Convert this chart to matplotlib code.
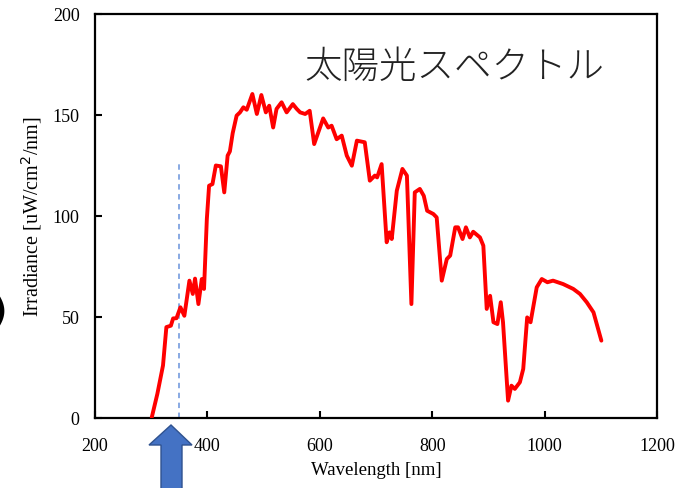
import matplotlib
matplotlib.use("Agg")
import matplotlib.pyplot as plt
from matplotlib.patches import Polygon

# ---- data ----
wavelength = [301, 311, 321, 327, 335, 339, 345, 352, 359, 368, 374, 378, 384, 390, 394,
              399, 403, 409, 415, 424, 430, 436, 440, 445, 452, 458, 464, 470, 480, 488,
              496, 504, 510, 517, 523, 532, 541, 552, 559, 565, 574, 582, 590, 606, 615,
              621, 630, 639, 648, 657, 666, 680, 689, 698, 702, 710, 719, 724, 728, 737,
              747, 755, 763, 769, 778, 785, 791, 802, 808, 817, 826, 832, 841, 846, 854,
              860, 867, 873, 885, 891, 897, 903, 909, 916, 922, 926, 935, 941, 947, 956,
              962, 969, 975, 986, 995, 1005, 1015, 1033, 1051, 1063, 1075, 1087, 1101]
irradiance = [0.3, 12, 26, 45, 45.7, 49.3, 49.4, 54.8, 50.6, 68, 61.4, 69, 56.4, 68.8, 63.9,
              98.5, 115, 115.8, 125, 124.6, 111.7, 129.9, 132, 141, 149.7, 151.3, 153.8, 152.6, 160.4, 150.5,
              159.9, 151.3, 154.6, 143.8, 153, 156.3, 151.3, 155.4, 153, 151.3, 150.5, 152.1, 135.6, 148.3, 143.8,
              144.7, 138, 139.8, 129.9, 124.9, 137.3, 136.5, 117.5, 120, 119.1, 125.7, 87, 91.9, 88.6, 112.5,
              123.3, 120, 56.4, 111.7, 113.4, 110, 102.6, 101, 99.3, 68, 78.7, 80.4, 94.4, 94.4, 88.6,
              94.4, 89.4, 92.2, 89.4, 85.3, 54, 60.5, 47.4, 46.5, 57.3, 47.4, 8.6, 16, 14.4, 17.7,
              24.3, 49.8, 47.4, 64.7, 68.8, 67.2, 68, 66.3, 63.9, 61.4, 57.3, 52.3, 38.3]
marker_wavelength = 350
marker_top = 127
xticks = [200, 400, 600, 800, 1000, 1200]
yticks = [0, 50, 100, 150, 200]
title = "太陽光スペクトル"
xlabel = "Wavelength [nm]"
ylabel = "Irradiance [uW/cm$^2$/nm]"

W, H = 697, 489
fig = plt.figure(figsize=(W / 100, H / 100), dpi=100)
ax = fig.add_axes([95 / W, 1 - 419 / H, (657 - 95) / W, (419 - 15) / H])

serif = "Liberation Serif"
plt.rcParams["mathtext.fontset"] = "custom"
plt.rcParams["mathtext.rm"] = serif

ax.plot(wavelength, irradiance, color="#ff0000", lw=2.8, solid_joinstyle="round",
        solid_capstyle="round", zorder=3)
ax.plot([marker_wavelength, marker_wavelength], [0, marker_top], color="#7fa3e0",
        lw=1.3, ls=(0, (3, 2.5)), zorder=2)

ax.set_xlim(200, 1200)
ax.set_ylim(0, 200)
ax.set_xticks(xticks)
ax.set_yticks(yticks)
ax.set_xticklabels([str(v) for v in xticks], family=serif, fontsize=13)
ax.set_yticklabels([str(v) for v in yticks], family=serif, fontsize=13)
ax.tick_params(direction="in", length=5, width=1.5, pad=0)
ax.tick_params(axis="x", pad=14)
ax.tick_params(axis="y", pad=11)
for s in ax.spines.values():
    s.set_linewidth(1.6)

ax.set_xlabel(xlabel, family=serif, fontsize=13.5, labelpad=5)
ax.set_ylabel(ylabel, family=serif, fontsize=14.5, labelpad=6)

ax.text(840, 174, title, ha="center", va="center", fontsize=27, fontweight="light",
        family=["Noto Sans CJK JP", "DejaVu Sans"], color="#222222")

# blue arrow below the axis
pts = [(171, 426), (192, 446), (182, 446), (182, 495), (161, 495), (161, 446), (149, 446)]
fig.patches.append(Polygon([(x / W, 1 - y / H) for x, y in pts], closed=True,
                           transform=fig.transFigure, facecolor="#4472c4",
                           edgecolor="#2f528f", lw=1.0, clip_on=False))

# partially cropped bracket at left edge (cropped in the reference too)
fig.text(-0.014, 1 - 312 / H, ")", fontsize=26, fontweight="bold", va="center", ha="left",
         family="DejaVu Sans")

fig.savefig("out.png", dpi=100)
